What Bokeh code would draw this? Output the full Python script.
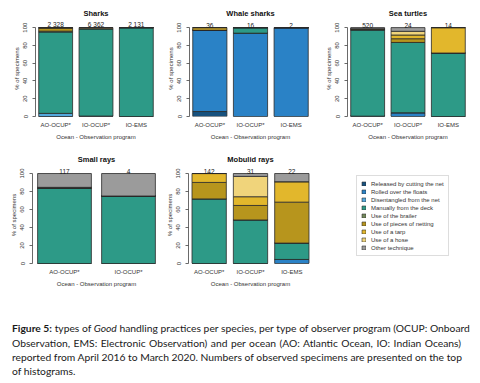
from bokeh.plotting import figure
from bokeh.models import (ColumnDataSource, FactorRange, Range1d, FixedTicker,
                          Legend, LegendItem, Div)
from bokeh.layouts import row, column
from bokeh.embed import file_html
from bokeh.resources import INLINE
from bokeh.core.properties import value

# ---------------- data ----------------
techniques = ["Released by cutting the net", "Rolled over the floats",
              "Disentangled from the net", "Manually from the deck",
              "Use of the brailer", "Use of pieces of netting",
              "Use of a tarp", "Use of a hose", "Other technique"]
tech_colors = ["#17517E", "#2A82C6", "#55A9DD", "#2D9A87", "#74895C",
               "#B7951D", "#E2B72C", "#F0D47B", "#9B9B9B"]
keys = ["released", "rolled", "disentangled", "manual", "brailer",
        "netting", "tarp", "hose", "other"]
y_ticks = [0, 20, 40, 60, 80, 100]

programs3 = ["AO-OCUP*", "IO-OCUP*", "IO-EMS"]
programs2 = ["AO-OCUP*", "IO-OCUP*"]

sharks_counts = ["2 328", "6 362", "2 131"]
sharks = {
    "Released by cutting the net": [0.0, 0.5, 0.0],
    "Disentangled from the net": [3.5, 0.0, 0.0],
    "Manually from the deck": [91.5, 98.3, 100.0],
    "Use of the brailer": [1.0, 0.0, 0.0],
    "Use of pieces of netting": [3.5, 0.0, 0.0],
    "Use of a tarp": [0.5, 0.0, 0.0],
    "Use of a hose": [0.0, 1.2, 0.0],
}

whale_counts = ["36", "16", "2"]
whale = {
    "Released by cutting the net": [5.6, 0.0, 0.0],
    "Rolled over the floats": [91.6, 93.75, 100.0],
    "Manually from the deck": [0.0, 6.25, 0.0],
    "Use of a tarp": [2.8, 0.0, 0.0],
}

turtle_counts = ["520", "24", "14"]
turtle = {
    "Released by cutting the net": [0.4, 0.0, 0.0],
    "Rolled over the floats": [0.0, 4.17, 0.0],
    "Manually from the deck": [97.0, 79.16, 71.43],
    "Use of pieces of netting": [1.2, 4.17, 0.0],
    "Use of a tarp": [0.0, 4.17, 28.57],
    "Use of a hose": [0.0, 4.17, 0.0],
    "Other technique": [1.4, 4.16, 0.0],
}

smallray_counts = ["117", "4"]
smallray = {
    "Manually from the deck": [83.8, 75.0],
    "Use of a tarp": [0.85, 0.0],
    "Other technique": [15.35, 25.0],
}

mobulid_counts = ["142", "31", "22"]
mobulid = {
    "Rolled over the floats": [0.0, 0.0, 4.5],
    "Manually from the deck": [71.8, 48.4, 18.2],
    "Use of pieces of netting": [18.3, 16.1, 45.5],
    "Use of a tarp": [9.9, 9.7, 22.7],
    "Use of a hose": [0.0, 22.6, 0.0],
    "Other technique": [0.0, 3.2, 9.1],
}

FONT = "Liberation Sans"


def make_panel(title, programs, counts, shares, width, height, mb_left, mb_right,
               mb_top, mb_bottom, y_top, title_standoff, bar_width):
    data = {"program": programs, "count": counts}
    for k, t in zip(keys, techniques):
        data[k] = shares.get(t, [0.0] * len(programs))
    src = ColumnDataSource(data)
    p = figure(x_range=FactorRange(*programs, range_padding=0),
               y_range=Range1d(0, y_top), width=width, height=height,
               output_backend="svg", toolbar_location=None,
               min_border_left=mb_left, min_border_right=mb_right,
               min_border_top=mb_top, min_border_bottom=mb_bottom)
    p.vbar_stack(keys, x="program", width=bar_width, source=src,
                 fill_color=tech_colors, line_color="#2a2a2a", line_width=0.8)
    p.text(x="program", y=100, text="count", source=src, text_align="center",
           text_baseline="bottom", y_offset=0.5, text_font_size="6.5px",
           text_font=value(FONT), text_color="#222222")
    p.xgrid.visible = False
    p.ygrid.visible = False
    p.outline_line_color = None
    p.background_fill_color = "white"

    p.title.text = title
    p.title.align = "center"
    p.title.text_font = FONT
    p.title.text_font_size = "7.5px"
    p.title.text_font_style = "bold"
    p.title.text_color = "#111111"
    p.title.standoff = title_standoff

    xa = p.xaxis[0]
    xa.axis_line_color = None
    xa.major_tick_line_color = None
    xa.minor_tick_line_color = None
    xa.major_tick_out = 0
    xa.major_tick_in = 0
    xa.major_label_text_font = FONT
    xa.major_label_text_font_size = "6px"
    xa.major_label_text_color = "#333333"
    xa.major_label_standoff = 5
    xa.axis_label = "Ocean - Observation program"
    xa.axis_label_text_font = FONT
    xa.axis_label_text_font_size = "6px"
    xa.axis_label_text_font_style = "normal"
    xa.axis_label_text_color = "#333333"
    xa.axis_label_standoff = 3

    ya = p.yaxis[0]
    ya.ticker = FixedTicker(ticks=y_ticks)
    ya.bounds = (0, 100)
    ya.axis_line_color = "#444444"
    ya.axis_line_width = 0.8
    ya.major_tick_line_color = "#444444"
    ya.major_tick_line_width = 0.8
    ya.major_tick_out = 3
    ya.major_tick_in = 0
    ya.minor_tick_line_color = None
    ya.major_label_orientation = "vertical"
    ya.major_label_text_font = FONT
    ya.major_label_text_font_size = "6px"
    ya.major_label_text_color = "#333333"
    ya.major_label_standoff = 5
    ya.axis_label = "% of specimens"
    ya.axis_label_text_font = FONT
    ya.axis_label_text_font_size = "6px"
    ya.axis_label_text_font_style = "normal"
    ya.axis_label_text_color = "#333333"
    ya.axis_label_standoff = 1
    return p


# top row: frame bottom at y=116, 100% at y=27
p1 = make_panel("Sharks", programs3, sharks_counts, sharks, 158, 143, 35, 2, 20, 27, 108, 6, 0.84)
p2 = make_panel("Whale sharks", programs3, whale_counts, whale, 156, 143, 31, 3, 20, 27, 108, 6, 0.84)
p3 = make_panel("Sea turtles", programs3, turtle_counts, turtle, 160, 143, 33, 6, 20, 27, 108, 6, 0.84)
# bottom row: frame bottom at y=263, 100% at y=173
p4 = make_panel("Small rays", programs2, smallray_counts, smallray, 160, 147, 32, 0, 23, 27, 107.8, 6, 0.84)
p5 = make_panel("Mobulid rays", programs3, mobulid_counts, mobulid, 158, 147, 28, 6, 23, 27, 107.8, 6, 0.83)

# legend panel (frame aligned with the other plots of the row)
leg = figure(width=156, height=147, x_range=Range1d(0, 1), y_range=Range1d(0, 1),
             output_backend="svg", toolbar_location=None,
             x_axis_location=None, y_axis_location=None,
             min_border_left=29, min_border_top=23, min_border_right=0, min_border_bottom=27)
leg.outline_line_color = None
leg.grid.visible = False
items = []
for t, c in zip(techniques, tech_colors):
    r = leg.vbar(x=[0.5], top=[0.5], width=0.1, fill_color=c,
                 line_color="#333333", line_width=0.6, visible=False)
    items.append(LegendItem(label=t, renderers=[r]))
legend = Legend(items=items, location="top_left", label_text_font=FONT,
                label_text_font_size="6px", label_text_color="#333333",
                label_text_line_height=1.0,
                label_height=7, glyph_height=5, glyph_width=5, spacing=1,
                padding=4, margin=9, label_standoff=5,
                border_line_color="#bbbbbb", border_line_width=0.8,
                background_fill_color="white", background_fill_alpha=1,
                inactive_fill_alpha=0)
leg.add_layout(legend)

line_style = "text-align: justify; text-align-last: justify; white-space: nowrap;"
caption_html = (
    '<div style="font-family: Lato, sans-serif; font-size: 10.3px; line-height: 14.5px; '
    'color: #1a1a1a; padding-top: 31px; padding-left: 12px; width: 461px;">'
    f'<div style="{line_style}"><b>Figure 5:</b> types of <i>Good</i> handling practices per species, '
    'per type of observer program (OCUP: Onboard</div>'
    f'<div style="{line_style}">Observation, EMS: Electronic Observation) and per ocean '
    '(AO: Atlantic Ocean, IO: Indian Oceans)</div>'
    f'<div style="{line_style}">reported from April 2016 to March 2020. Numbers of observed '
    'specimens are presented on the top</div>'
    '<div style="line-height: 11px; padding-top: 1px;">of histograms.</div>'
    '</div>'
)
caption = Div(text=caption_html, width=476, height=88, margin=0)

layout = column(row(p1, p2, p3), row(p4, p5, leg), caption, spacing=0)

open("out.html", "w").write(file_html(layout, INLINE))
